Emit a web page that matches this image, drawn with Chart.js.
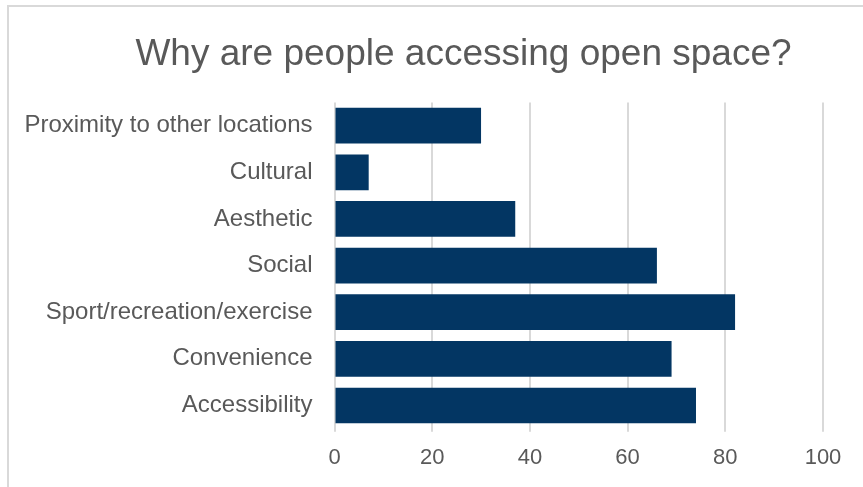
<!DOCTYPE html>
<html>
<head>
<meta charset="utf-8">
<script src="https://cdn.jsdelivr.net/npm/chart.js@4"></script>
<style>
  body { margin: 0; background: #fff; overflow: hidden; }
  #frame { position: absolute; left: 7px; top: 5px; width: 900px; height: 600px; border: 2px solid #d9d9d9; }
  #wrap { position: absolute; left: 0; top: 0; width: 863px; height: 487px; }
</style>
</head>
<body>
<div id="frame"></div>
<div id="wrap"><canvas id="chart"></canvas></div>
<script>
// categories listed top to bottom as they appear
const categories = ['Proximity to other locations', 'Cultural', 'Aesthetic', 'Social',
  'Sport/recreation/exercise', 'Convenience', 'Accessibility'];
const values = [30, 7, 37, 66, 82, 69, 74];
const xTicks = [0, 20, 40, 60, 80, 100];

const textColor = '#595959';
const font = 'Liberation Sans, Arial, sans-serif';

// the title in the original is centred a bit right of the canvas middle
const shiftTitle = {
  id: 'shiftTitle',
  afterLayout(chart) {
    if (chart.titleBlock) chart.titleBlock.left = 104;
  }
};

new Chart(document.getElementById('chart'), {
  type: 'bar',
  data: {
    labels: categories,
    datasets: [{
      data: values,
      backgroundColor: '#033663',
      barPercentage: 0.766,
      categoryPercentage: 1
    }]
  },
  options: {
    indexAxis: 'y',
    responsive: true,
    maintainAspectRatio: false,
    animation: false,
    layout: { padding: { left: 0, right: 40, top: 10, bottom: 2 } },
    plugins: {
      legend: { display: false },
      tooltip: { enabled: false },
      title: {
        display: true,
        text: 'Why are people accessing open space?',
        color: textColor,
        font: { family: font, size: 37, weight: 'normal' },
        padding: { top: 23, bottom: 25 }
      }
    },
    scales: {
      x: {
        min: xTicks[0],
        max: xTicks[xTicks.length - 1],
        afterBuildTicks: s => { s.ticks = xTicks.map(v => ({ value: v })); },
        grid: { color: '#d9d9d9', lineWidth: 2, tickLength: 3 },
        border: { display: false },
        ticks: {
          color: textColor,
          padding: 13.4,
          font: { family: font, size: 22 }
        }
      },
      y: {
        afterFit: s => { s.width = 334.5; },
        grid: { display: false, drawTicks: false },
        border: { display: false },
        ticks: {
          color: textColor,
          padding: 22,
          font: { family: font, size: 24 }
        }
      }
    }
  },
  plugins: [shiftTitle]
});
</script>
</body>
</html>
